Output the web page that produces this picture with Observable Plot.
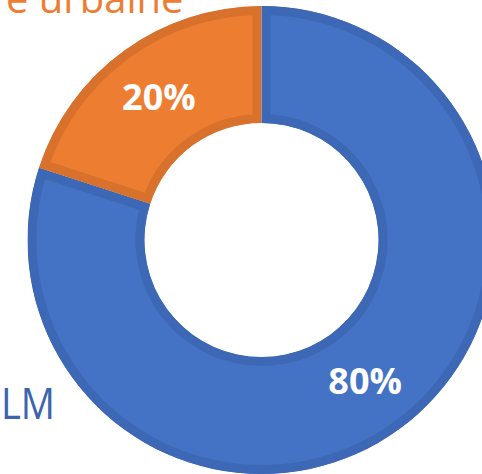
<!DOCTYPE html>
<html>
<head>
<meta charset="utf-8">
<script src="https://cdn.jsdelivr.net/npm/d3@7"></script>
<script src="https://cdn.jsdelivr.net/npm/@observablehq/plot@0.6"></script>
<style>
  html, body { margin: 0; padding: 0; background: #fff; overflow: hidden; }
  #chart svg { display: block; }
</style>
</head>
<body>
<div id="chart"></div>
<script>
// Data
const categories = ["LM", "e urbaine"];
const values = [80, 20];
const valueLabels = ["80%", "20%"];
const fills = ["#4472C4", "#ED7D31"];
const borders = ["#3D68B6", "#D8712C"];
const labelColors = ["#3B64AD", "#ED7D31"];

const W = 482, H = 474;
const cx = 261.5, cy = 240;
const outerR = 234, innerR = 117;

const pie = d3.pie().sort(null).value(d => d.value);
const slices = pie(categories.map((c, i) => ({category: c, value: values[i], label: valueLabels[i], i})));
const arcGen = d3.arc().innerRadius(innerR).outerRadius(outerR);

const labelData = slices.map(s => {
  const [x, y] = arcGen.centroid(s);
  return {x, y, text: s.data.label};
});

// category annotations (cropped in the reference)
const annotations = [
  {text: categories[1], x: -78.5, y: -228, color: labelColors[1], size: 40, anchor: "end", len: null},
  {text: categories[0], x: -261, y: 178, color: labelColors[0], size: 43, anchor: "start", len: 54}
];

function donutMark(index, scales) {
  const ns = "http://www.w3.org/2000/svg";
  const g = document.createElementNS(ns, "g");
  const ox = scales.x(0), oy = scales.y(0);
  const k = scales.x(1) - scales.x(0);
  const arc = d3.arc().innerRadius(innerR * k).outerRadius(outerR * k);
  g.setAttribute("transform", `translate(${ox},${oy})`);
  slices.forEach((s, j) => {
    const d = arc(s);
    const clipId = "clip-slice-" + j;
    const cp = document.createElementNS(ns, "clipPath");
    cp.setAttribute("id", clipId);
    const cpPath = document.createElementNS(ns, "path");
    cpPath.setAttribute("d", d);
    cp.appendChild(cpPath);
    g.appendChild(cp);
    const p = document.createElementNS(ns, "path");
    p.setAttribute("d", d);
    p.setAttribute("fill", fills[s.data.i]);
    p.setAttribute("stroke", borders[s.data.i]);
    p.setAttribute("stroke-width", 18);
    p.setAttribute("stroke-linejoin", "miter");
    p.setAttribute("clip-path", `url(#${clipId})`);
    g.appendChild(p);
  });
  return g;
}

const chart = Plot.plot({
  width: W,
  height: H,
  margin: 0,
  x: {type: "linear", domain: [-cx, W - cx], range: [0, W], axis: null},
  y: {type: "linear", domain: [-cy, H - cy], range: [0, H], axis: null},
  style: {background: "#fff", fontFamily: "'Open Sans', sans-serif"},
  marks: [
    donutMark,
    Plot.text(labelData, {
      x: "x", y: "y", text: "text",
      fill: "#fff", fontSize: 36, fontWeight: "bold",
      fontFamily: "'Open Sans', sans-serif"
    }),
    Plot.text([annotations[0]], {
      x: "x", y: "y", text: "text",
      fill: d => d.color, fontSize: d => d.size,
      textAnchor: "end", lineAnchor: "bottom",
      fontFamily: "'Open Sans', sans-serif"
    }),
    Plot.text([annotations[1]], {
      x: "x", y: "y", text: "text",
      fill: d => d.color, fontSize: d => d.size,
      textAnchor: "start", lineAnchor: "bottom",
      fontFamily: "'Open Sans', sans-serif",
      className: "lm-label"
    })
  ]
});

// squeeze the LM label to the reference's width
chart.querySelectorAll(".lm-label text").forEach(t => {
  t.setAttribute("textLength", annotations[1].len);
  t.setAttribute("lengthAdjust", "spacingAndGlyphs");
});

document.getElementById("chart").appendChild(chart);
</script>
</body>
</html>
